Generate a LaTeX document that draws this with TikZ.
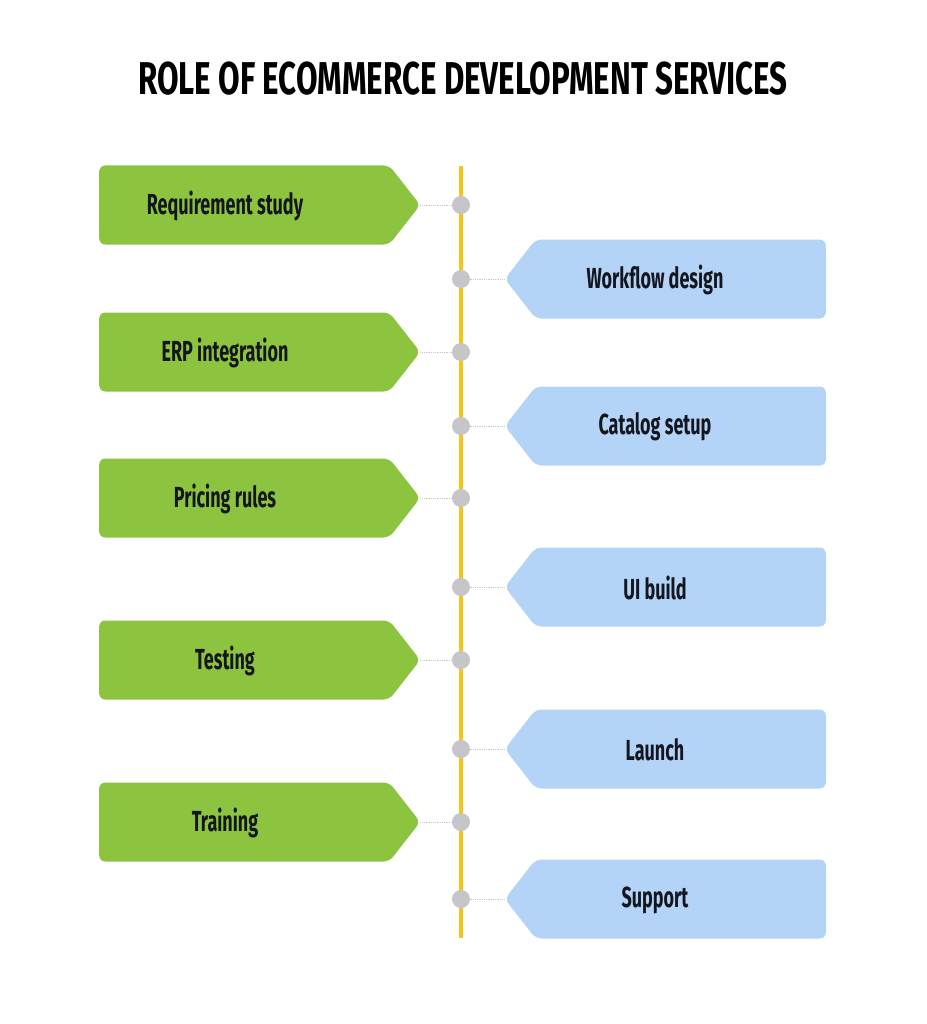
\documentclass[tikz,border=0pt]{standalone}
\usepackage{fontspec}
\usepackage{tikz}
\usetikzlibrary{shapes.symbols}
\newfontfamily\dinfont{Fira Sans}[FakeStretch=0.62]
\newfontfamily\dintitle{Fira Sans}[FakeStretch=0.68]
\definecolor{stepgreen}{HTML}{8CC43F}
\definecolor{stepblue}{HTML}{B3D4F6}
\definecolor{dotgray}{HTML}{C6C6CA}
\definecolor{lineyellow}{HTML}{F5C518}
\definecolor{inkdark}{HTML}{14161F}

\begin{document}
\begin{tikzpicture}[
  x=1pt,y=-1pt,
  font=\dinfont\bfseries,
  leftstep/.style={shape=signal,signal to=east,signal from=nowhere,signal pointer angle=104,
    fill=stepgreen,rounded corners=6pt,minimum width=321pt,minimum height=79pt,inner sep=0pt,anchor=west,
    label={[anchor=center,xshift=126pt,yshift=-1pt,text=inkdark,font=\dinfont\bfseries\fontsize{29}{32}\selectfont]west:#1}},
  rightstep/.style={shape=signal,signal to=west,signal from=nowhere,signal pointer angle=104,
    fill=stepblue,rounded corners=6pt,minimum width=321pt,minimum height=79pt,inner sep=0pt,anchor=east,
    label={[anchor=center,xshift=-171pt,yshift=-1pt,text=inkdark,font=\dinfont\bfseries\fontsize{29}{32}\selectfont]east:#1}},
  dot/.style={circle,fill=dotgray,minimum size=18pt,inner sep=0pt},
  link/.style={densely dotted,gray!45,line width=0.8pt}]

  \useasboundingbox[fill=white] (0,0) rectangle (926,1024);

  % Title
  \node[font=\dintitle\bfseries\fontsize{46}{50}\selectfont,text=black] (title) at (463,79) {ROLE OF ECOMMERCE DEVELOPMENT SERVICES};

  % The time line
  \coordinate (top) at (461,166);
  \coordinate (bottom) at (461,938);
  \draw[lineyellow,line width=4pt] (top) -- (bottom);

  % Steps on the left
  \node[leftstep={Requirement study}] (req) at (99,205) {};
  \node[leftstep={ERP integration}] (erp) at (99,352) {};
  \node[leftstep={Pricing rules}] (price) at (99,498) {};
  \node[leftstep={Testing}] (test) at (99,660) {};
  \node[leftstep={Training}] (train) at (99,822) {};

  % Steps on the right
  \node[rightstep={Workflow design}] (flow) at (826,279) {};
  \node[rightstep={Catalog setup}] (cat) at (826,426) {};
  \node[rightstep={UI build}] (ui) at (826,587) {};
  \node[rightstep={Launch}] (launch) at (826,749) {};
  \node[rightstep={Support}] (support) at (826,899) {};

  % Dots on the time line
  \node[dot] (dreq) at (461,205) {};
  \node[dot] (dflow) at (461,279) {};
  \node[dot] (derp) at (461,352) {};
  \node[dot] (dcat) at (461,426) {};
  \node[dot] (dprice) at (461,498) {};
  \node[dot] (dui) at (461,587) {};
  \node[dot] (dtest) at (461,660) {};
  \node[dot] (dlaunch) at (461,749) {};
  \node[dot] (dtrain) at (461,822) {};
  \node[dot] (dsupport) at (461,899) {};

  % Links from the steps to the dots
  \draw[link] (req.east) -- (dreq);
  \draw[link] (erp.east) -- (derp);
  \draw[link] (price.east) -- (dprice);
  \draw[link] (test.east) -- (dtest);
  \draw[link] (train.east) -- (dtrain);
  \draw[link] (flow.west) -- (dflow);
  \draw[link] (cat.west) -- (dcat);
  \draw[link] (ui.west) -- (dui);
  \draw[link] (launch.west) -- (dlaunch);
  \draw[link] (support.west) -- (dsupport);
\end{tikzpicture}
\end{document}
